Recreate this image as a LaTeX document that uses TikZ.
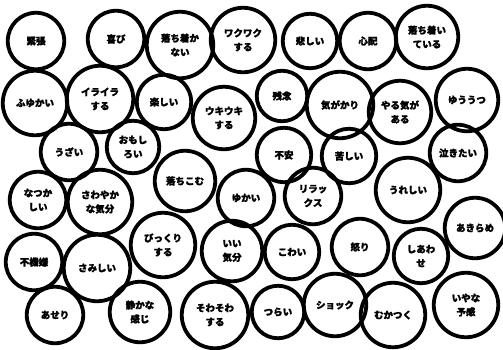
\documentclass[tikz,border=0pt]{standalone}
\usepackage{fontspec}
\newfontfamily\jp[BoldFeatures={FakeBold=1.5}]{Noto Sans CJK JP}
\tikzset{
  bub/.style={circle, draw=black, line width=3.8pt, inner sep=0pt, align=center,
    font=\jp\bfseries\fontsize{9.5}{14}\selectfont, text=black}
}
\newcommand\emo[5]{\node[bub, minimum size={2*#4pt+0.5pt}] (#1) at (#2) {#5};}
\begin{document}
\begin{tikzpicture}[x=1pt,y=-1pt]
\useasboundingbox[fill=white] (0,0) rectangle (503,349);
\emo{a1}{36,41}{}{28}{緊張}
\emo{a2}{116,39}{}{28}{喜び}
\emo{a3}{180,45}{}{33}{落ち着か\\ない}
\emo{a4}{243,40}{}{32}{ワクワク\\する}
\emo{a5}{310,41}{}{27}{悲しい}
\emo{a6}{368,41}{}{28}{心配}
\emo{a7}{427,37}{}{31}{落ち着い\\ている}
\emo{b1}{35,103}{}{32}{ふゆかい}
\emo{b2}{100,99}{}{33}{イライラ\\する}
\emo{b3}{164,102}{}{27}{楽しい}
\emo{b4}{224,118}{}{31}{ウキウキ\\する}
\emo{b5}{282,96}{}{25}{残念}
\emo{b6}{340,105}{}{33}{気がかり}
\emo{b7}{400,112}{}{31}{やる気が\\ある}
\emo{b8}{467,100}{}{31}{ゆううつ}
\emo{c1}{69,152}{}{28}{うざい}
\emo{c2}{133,147}{}{26}{おもし\\ろい}
\emo{c3}{284,155}{}{27}{不安}
\emo{c4}{349,156}{}{27}{苦しい}
\emo{c5}{458,153}{}{28}{泣きたい}
\emo{d1}{38,200}{}{28}{なつか\\しい}
\emo{d2}{100,202}{}{32}{さわやか\\な気分}
\emo{d3}{185,181}{}{30}{落ちこむ}
\emo{d4}{246,198}{}{28}{ゆかい}
\emo{d5}{313,196}{}{28}{リラッ\\クス}
\emo{d6}{408,190}{}{32}{うれしい}
\emo{e1}{34,262}{}{28}{不機嫌}
\emo{e2}{97,268}{}{33}{さみしい}
\emo{e3}{163,245}{}{32}{びっくり\\する}
\emo{e4}{232,251}{}{30}{いい\\気分}
\emo{e5}{292,252}{}{27}{こわい}
\emo{e6}{360,247}{}{28}{怒り}
\emo{e7}{421,256}{}{27}{しあわ\\せ}
\emo{e8}{475,228}{}{30}{あきらめ}
\emo{f1}{55,315}{}{28}{あせり}
\emo{f2}{140,312}{}{30}{静かな\\感じ}
\emo{f3}{215,315}{}{33}{そわそわ\\する}
\emo{f4}{278,312}{}{26}{つらい}
\emo{f5}{335,305}{}{31}{ショック}
\emo{f6}{393,315}{}{32}{むかつく}
\emo{f7}{466,305}{}{32}{いやな\\予感}
\end{tikzpicture}
\end{document}
